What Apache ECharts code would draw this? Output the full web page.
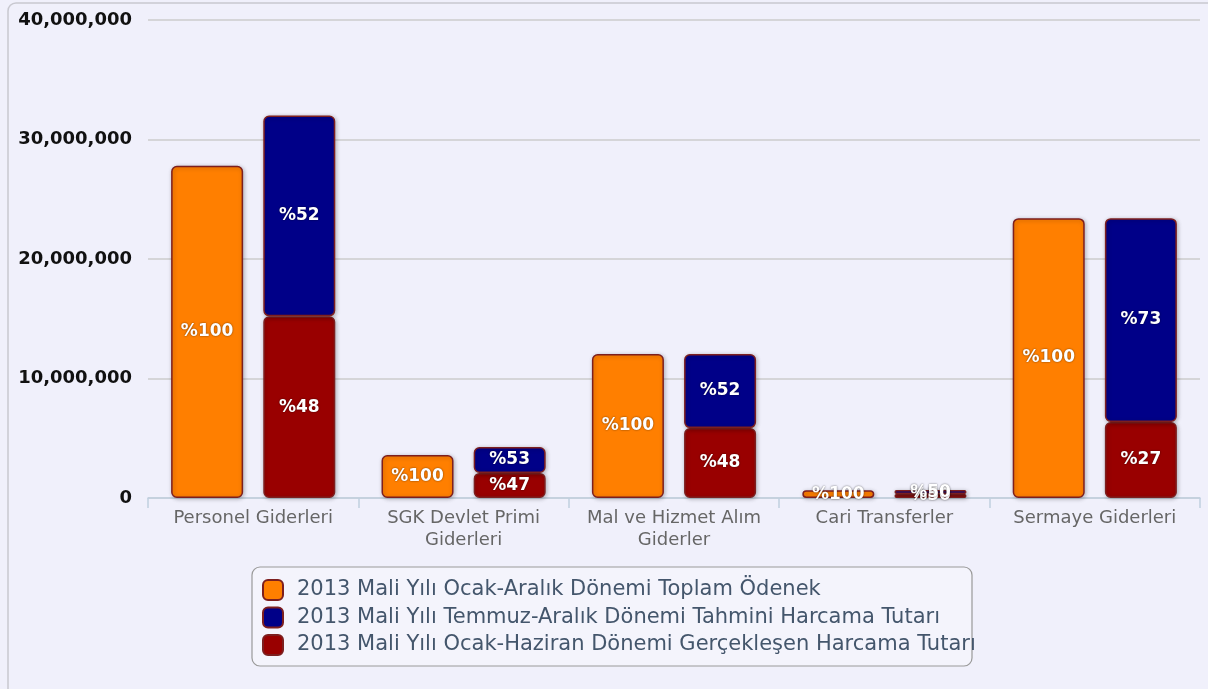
<!DOCTYPE html>
<html>
<head>
<meta charset="utf-8">
<script src="https://cdn.jsdelivr.net/npm/echarts@6/dist/echarts.min.js"></script>
<style>
  html, body { margin: 0; padding: 0; background: #fff; }
  #main { width: 1208px; height: 689px; }
</style>
</head>
<body>
<div id="main"></div>
<script>
// kategoriler ve seriler
var categories = ['Personel Giderleri', 'SGK Devlet Primi\nGiderleri', 'Mal ve Hizmet Alım\nGiderler', 'Cari Transferler', 'Sermaye Giderleri'];
var seriesNames = [
  '2013 Mali Yılı Ocak-Aralık Dönemi Toplam Ödenek',
  '2013 Mali Yılı Temmuz-Aralık Dönemi Tahmini Harcama Tutarı',
  '2013 Mali Yılı Ocak-Haziran Dönemi Gerçekleşen Harcama Tutarı'
];
var toplamOdenek = [27800000, 3600000, 12050000, 650000, 23420000];
var tahminiHarcama = [16800000, 2170000, 6200000, 330000, 17060000];
var gerceklesenHarcama = [15200000, 2100000, 5850000, 330000, 6360000];
var toplamLabels = ['%100', '%100', '%100', '%100', '%100'];
var tahminiLabels = ['%52', '%53', '%52', '%50', '%73'];
var gerceklesenLabels = ['%48', '%47', '%48', '%50', '%27'];
var yTicks = [0, 10000000, 20000000, 30000000, 40000000];

var font = 'DejaVu Sans';
var barBorder = '#7d1f1f';

function labelOf(arr) {
  return {
    show: true,
    position: 'inside',
    color: '#fff',
    fontFamily: font,
    fontWeight: 'bold',
    fontSize: 17,
    textShadowColor: 'rgba(0,0,0,0.6)',
    textShadowBlur: 2,
    formatter: function (p) { return arr[p.dataIndex]; }
  };
}

function itemOf(color) {
  return {
    color: color,
    borderColor: barBorder,
    borderWidth: 1.5,
    borderRadius: 5,
    shadowColor: 'rgba(0,0,0,0.25)',
    shadowBlur: 4,
    shadowOffsetX: 1,
    shadowOffsetY: 1
  };
}

var myChart = echarts.init(document.getElementById('main'));
myChart.setOption({
  backgroundColor: '#f0f0fb',
  animation: false,
  graphic: [{
    type: 'rect',
    shape: { x: 8, y: 3, width: 1230, height: 720, r: 8 },
    style: { fill: 'none', stroke: '#c8c8d0', lineWidth: 1.5 },
    silent: true
  }, {
    // lejant kutusu (metin kutudan taşıyor)
    type: 'rect',
    shape: { x: 252, y: 567, width: 720, height: 99, r: 8 },
    style: { fill: '#f4f4fc', stroke: '#999', lineWidth: 1.2 },
    silent: true,
    z: -1
  }],
  grid: { left: 148, right: 8, top: 20, bottom: 191 },
  legend: {
    orient: 'vertical',
    left: 256,
    top: 579,
    padding: [0, 0, 0, 6],
    itemGap: 5.5,
    itemWidth: 20,
    itemHeight: 20,
    icon: 'roundRect',
    data: [seriesNames[0], seriesNames[1], seriesNames[2]],
    textStyle: { fontFamily: font, fontSize: 21, lineHeight: 22, color: '#44566c', padding: [0, 0, 0, 9] }
  },
  xAxis: {
    type: 'category',
    data: categories,
    axisLine: { lineStyle: { color: '#c0d0e0', width: 1.5 } },
    axisTick: { show: true, length: 10, lineStyle: { color: '#c0d0e0', width: 1.5 } },
    axisLabel: { interval: 0, color: '#666', fontFamily: font, fontSize: 18, lineHeight: 22, margin: 9 }
  },
  yAxis: {
    type: 'value',
    min: yTicks[0],
    max: yTicks[yTicks.length - 1],
    interval: 10000000,
    axisLine: { show: false },
    axisTick: { show: false },
    splitLine: { lineStyle: { color: '#cccccc', width: 1.5 } },
    axisLabel: {
      color: '#111',
      fontFamily: font,
      fontWeight: 'bold',
      fontSize: 18,
      margin: 16,
      formatter: function (v) { return v.toLocaleString('en-US'); }
    }
  },
  series: [
    {
      name: seriesNames[0],
      type: 'bar',
      barWidth: 72,
      barGap: '28%',
      data: toplamOdenek,
      itemStyle: itemOf('#ff7f00'),
      label: labelOf(toplamLabels)
    },
    {
      name: seriesNames[2],
      type: 'bar',
      stack: 'harcama',
      barWidth: 72,
      data: gerceklesenHarcama,
      itemStyle: itemOf('#990000'),
      label: labelOf(gerceklesenLabels)
    },
    {
      name: seriesNames[1],
      type: 'bar',
      stack: 'harcama',
      barWidth: 72,
      data: tahminiHarcama,
      itemStyle: itemOf('#000088'),
      label: labelOf(tahminiLabels)
    }
  ]
});
</script>
</body>
</html>
